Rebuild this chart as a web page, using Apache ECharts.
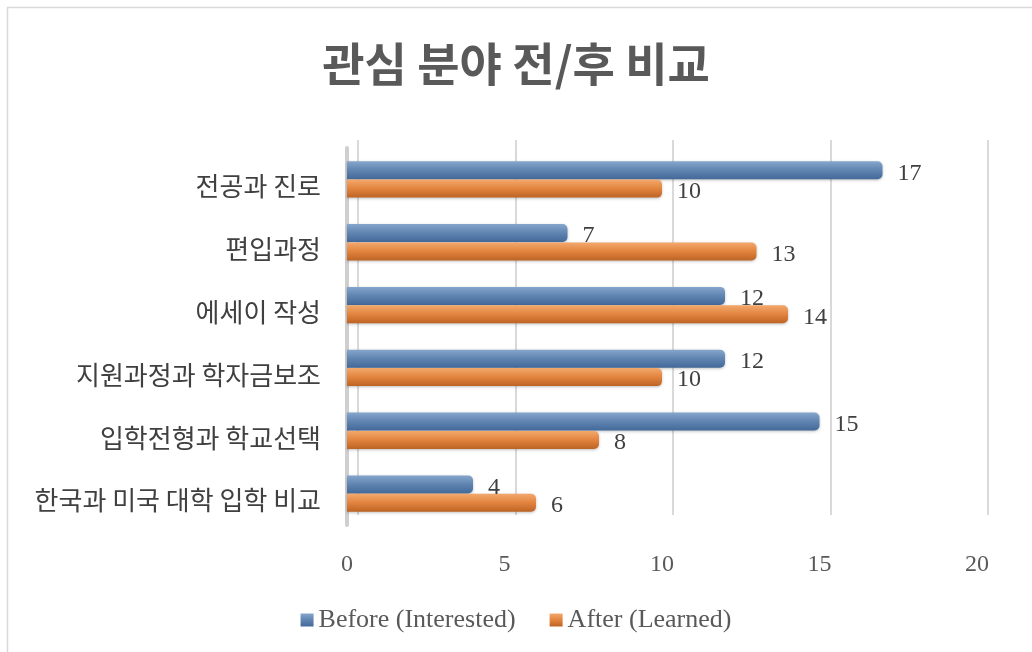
<!DOCTYPE html>
<html><head><meta charset="utf-8">
<script src="https://cdn.jsdelivr.net/npm/echarts@6/dist/echarts.min.js"></script>
<style>html,body{margin:0;padding:0;background:#fff}#c{width:1032px;height:652px}</style>
</head><body><div id="c"></div>
<script>
const categories = ['한국과 미국 대학 입학 비교','입학전형과 학교선택','지원과정과 학자금보조','에세이 작성','편입과정','전공과 진로'];
const beforeValues = [4, 15, 12, 12, 7, 17];
const afterValues = [6, 8, 10, 14, 13, 10];
const seriesNames = ['Before (Interested)', 'After (Learned)'];
const xTicks = [0, 5, 10, 15, 20];

const serif = '"Liberation Serif", "DejaVu Serif", serif';
const sans = '"Noto Sans CJK KR", "Noto Sans", sans-serif';
function grad(a,b,c){return new echarts.graphic.LinearGradient(0,0,0,1,[{offset:0,color:a},{offset:0.5,color:b},{offset:1,color:c}]);}
const blue = grad('#86a6cc','#5f84b0','#43699a');
const orange = grad('#f3a86c','#e2843e','#bd6424');

const chart = echarts.init(document.getElementById('c'));
chart.setOption({
  animation:false,
  backgroundColor:'#fff',
  title:{text:'관심 분야 전/후 비교',left:'center',top:36,textStyle:{fontFamily:sans,fontSize:46,fontWeight:'bold',color:'#595959'}},
  legend:{bottom:14,left:'center',itemGap:34,itemWidth:13,itemHeight:13,icon:'rect',
    textStyle:{fontFamily:serif,fontSize:26,color:'#595959'},data:seriesNames},
  grid:[
    {left:347,width:630,top:148,height:377,containLabel:false},
    {left:358,width:630,top:140,height:375,containLabel:false},
    {left:347,width:630,top:155,height:377,containLabel:false}
  ],
  xAxis:[
    {gridIndex:0,type:'value',min:xTicks[0],max:xTicks[xTicks.length-1],interval:5,
     axisLine:{show:false},axisTick:{show:false},splitLine:{show:false},
     axisLabel:{fontFamily:serif,fontSize:24,color:'#595959',margin:28}},
    {gridIndex:1,type:'value',min:xTicks[0],max:xTicks[xTicks.length-1],interval:5,
     axisLine:{show:false},axisTick:{show:false},axisLabel:{show:false},
     splitLine:{show:true,lineStyle:{color:'#d9d9d9',width:2}}},
    {gridIndex:2,type:'value',min:xTicks[0],max:xTicks[xTicks.length-1],show:false}
  ],
  yAxis:[
    {gridIndex:0,type:'category',data:categories,
     axisLine:{show:true,lineStyle:{color:'#cfcfcf',width:4}},axisTick:{show:false},
     axisLabel:{show:false}},
    {gridIndex:1,type:'category',data:categories,show:false},
    {gridIndex:2,type:'category',data:categories,
     axisLine:{show:false},axisTick:{show:false},splitLine:{show:false},
     axisLabel:{fontFamily:sans,fontSize:26,color:'#404040',margin:26}}
  ],
  series:[
    {name:seriesNames[0],type:'bar',xAxisIndex:0,yAxisIndex:0,data:beforeValues,barWidth:18,barGap:'2%',
     itemStyle:{color:blue,borderRadius:[0,5,5,0],shadowColor:'rgba(0,0,0,0.25)',shadowBlur:3,shadowOffsetY:1},
     label:{show:true,position:'right',distance:15,offset:[0,3],fontFamily:serif,fontSize:24,color:'#404040'}},
    {name:seriesNames[1],type:'bar',xAxisIndex:0,yAxisIndex:0,data:afterValues,barWidth:18,
     itemStyle:{color:orange,borderRadius:[0,5,5,0],shadowColor:'rgba(0,0,0,0.25)',shadowBlur:3,shadowOffsetY:1},
     label:{show:true,position:'right',distance:15,offset:[0,3],fontFamily:serif,fontSize:24,color:'#404040'}}
  ],
  graphic:[{type:'rect',shape:{x:7.5,y:7.5,width:1100,height:700},style:{fill:'none',stroke:'#d9d9d9',lineWidth:1.5},z:-1}]
});
</script></body></html>
